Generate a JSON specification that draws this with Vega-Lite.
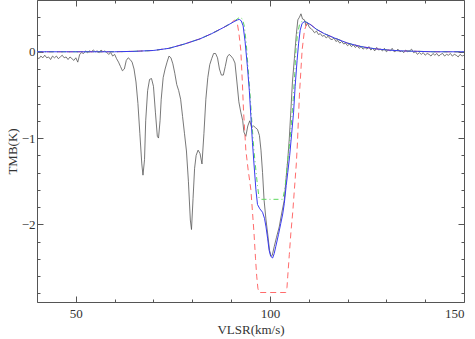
{
  "$schema": "https://vega.github.io/schema/vega-lite/v6.json",
  "width": 427,
  "height": 302,
  "autosize": {"type": "none"},
  "padding": {"left": 37, "top": 0, "right": 11, "bottom": 37},
  "background": "white",
  "config": {
    "view": {"stroke": "#555", "strokeWidth": 1},
    "font": "Liberation Serif",
    "axis": {"grid": false, "domain": false, "tickColor": "#555", "labelColor": "#333", "titleColor": "#333", "labelFont": "Liberation Serif", "titleFont": "Liberation Serif", "labelFontSize": 13, "titleFontSize": 13, "titleFontWeight": "normal"}
  },
  "datasets": {
    "obs": [
      {"v":40,"t":-0.06},{"v":40.5,"t":-0.08},{"v":41,"t":-0.05},{"v":41.5,"t":-0.07},{"v":42,"t":-0.04},{"v":42.5,"t":-0.07},{"v":43,"t":-0.06},{"v":43.5,"t":-0.09},{"v":44,"t":-0.05},{"v":44.5,"t":-0.07},{"v":45,"t":-0.05},{"v":45.5,"t":-0.08},{"v":46,"t":-0.06},{"v":46.5,"t":-0.04},{"v":47,"t":-0.07},{"v":47.5,"t":-0.06},{"v":48,"t":-0.09},{"v":48.5,"t":-0.06},{"v":49,"t":-0.08},{"v":49.5,"t":-0.1},{"v":50,"t":-0.07},{"v":50.5,"t":-0.12},{"v":51,"t":-0.03},{"v":51.5,"t":-0.01},{"v":52,"t":-0.02},{"v":52.5,"t":0.01},{"v":53,"t":-0.01},{"v":53.5,"t":0.01},{"v":54,"t":0.0},{"v":54.5,"t":0.02},{"v":55,"t":0.0},{"v":55.5,"t":0.01},{"v":56,"t":-0.01},{"v":56.5,"t":0.02},{"v":57,"t":0.0},{"v":57.5,"t":0.01},{"v":58,"t":-0.01},{"v":58.5,"t":-0.03},{"v":59,"t":-0.01},{"v":59.5,"t":-0.05},{"v":60,"t":-0.03},{"v":60.5,"t":-0.08},{"v":61,"t":-0.12},{"v":61.5,"t":-0.17},{"v":62,"t":-0.22},{"v":62.5,"t":-0.2},{"v":63,"t":-0.1},{"v":63.5,"t":-0.07},{"v":64,"t":-0.09},{"v":64.5,"t":-0.12},{"v":65,"t":-0.2},{"v":65.5,"t":-0.35},{"v":66,"t":-0.6},{"v":66.5,"t":-0.95},{"v":67,"t":-1.3},{"v":67.3,"t":-1.43},{"v":67.7,"t":-1.25},{"v":68,"t":-0.8},{"v":68.5,"t":-0.45},{"v":69,"t":-0.32},{"v":69.5,"t":-0.31},{"v":70,"t":-0.4},{"v":70.5,"t":-0.7},{"v":71,"t":-0.98},{"v":71.3,"t":-1.0},{"v":71.7,"t":-0.8},{"v":72,"t":-0.55},{"v":72.5,"t":-0.3},{"v":73,"t":-0.2},{"v":73.5,"t":-0.12},{"v":74,"t":-0.05},{"v":74.5,"t":-0.07},{"v":75,"t":-0.14},{"v":75.5,"t":-0.25},{"v":76,"t":-0.38},{"v":76.5,"t":-0.45},{"v":77,"t":-0.55},{"v":77.5,"t":-0.75},{"v":78,"t":-0.95},{"v":78.5,"t":-1.15},{"v":79,"t":-1.5},{"v":79.5,"t":-1.95},{"v":79.8,"t":-2.06},{"v":80.2,"t":-1.7},{"v":80.6,"t":-1.35},{"v":81,"t":-1.2},{"v":81.5,"t":-1.14},{"v":82,"t":-1.18},{"v":82.5,"t":-1.3},{"v":83,"t":-0.95},{"v":83.5,"t":-0.55},{"v":84,"t":-0.3},{"v":84.5,"t":-0.15},{"v":85,"t":-0.08},{"v":85.5,"t":-0.02},{"v":86,"t":-0.02},{"v":86.5,"t":-0.07},{"v":87,"t":-0.2},{"v":87.5,"t":-0.27},{"v":88,"t":-0.27},{"v":88.5,"t":-0.17},{"v":89,"t":-0.06},{"v":89.5,"t":-0.03},{"v":90,"t":-0.05},{"v":90.5,"t":-0.08},{"v":91,"t":-0.13},{"v":91.5,"t":-0.35},{"v":92,"t":-0.58},{"v":92.5,"t":-0.7},{"v":93,"t":-0.8},{"v":93.3,"t":-0.93},{"v":93.8,"t":-0.98},{"v":94.3,"t":-0.86},{"v":94.8,"t":-0.8},{"v":95.3,"t":-0.88},{"v":95.8,"t":-0.86},{"v":96.3,"t":-0.88},{"v":96.8,"t":-0.9},{"v":97.3,"t":-0.97},{"v":97.7,"t":-1.14},{"v":98.1,"t":-1.4},{"v":98.5,"t":-1.72},{"v":99,"t":-1.95},{"v":99.4,"t":-2.1},{"v":99.9,"t":-2.3},{"v":100.3,"t":-2.37},{"v":100.6,"t":-2.36},{"v":101.1,"t":-2.26},{"v":101.7,"t":-2.15},{"v":102.4,"t":-2.03},{"v":103,"t":-1.88},{"v":103.7,"t":-1.72},{"v":104.2,"t":-1.45},{"v":104.6,"t":-1.25},{"v":105,"t":-1.0},{"v":105.4,"t":-0.68},{"v":105.8,"t":-0.35},{"v":106.3,"t":-0.08},{"v":106.8,"t":0.2},{"v":107.2,"t":0.37},{"v":107.6,"t":0.4},{"v":108,"t":0.44},{"v":108.4,"t":0.38},{"v":108.9,"t":0.37},{"v":109.3,"t":0.3},{"v":109.7,"t":0.33},{"v":110.2,"t":0.28},{"v":110.6,"t":0.27},{"v":111,"t":0.25},{"v":111.5,"t":0.22},{"v":112,"t":0.24},{"v":112.5,"t":0.2},{"v":113,"t":0.21},{"v":113.5,"t":0.18},{"v":114,"t":0.19},{"v":114.5,"t":0.16},{"v":115,"t":0.18},{"v":115.5,"t":0.15},{"v":116,"t":0.14},{"v":116.5,"t":0.16},{"v":117,"t":0.12},{"v":117.5,"t":0.13},{"v":118,"t":0.1},{"v":118.5,"t":0.12},{"v":119,"t":0.09},{"v":119.5,"t":0.1},{"v":120,"t":0.07},{"v":120.5,"t":0.09},{"v":121,"t":0.06},{"v":121.5,"t":0.08},{"v":122,"t":0.05},{"v":122.5,"t":0.07},{"v":123,"t":0.04},{"v":123.5,"t":0.06},{"v":124,"t":0.03},{"v":124.5,"t":0.05},{"v":125,"t":0.03},{"v":125.5,"t":0.06},{"v":126,"t":0.02},{"v":126.5,"t":0.04},{"v":127,"t":0.01},{"v":127.5,"t":0.05},{"v":128,"t":0.02},{"v":128.5,"t":0.03},{"v":129,"t":0.01},{"v":129.5,"t":0.04},{"v":130,"t":0.0},{"v":130.5,"t":0.02},{"v":131,"t":0.01},{"v":131.5,"t":0.04},{"v":132,"t":0.0},{"v":132.5,"t":0.01},{"v":133,"t":0.03},{"v":133.5,"t":0.0},{"v":134,"t":0.01},{"v":134.5,"t":-0.01},{"v":135,"t":0.02},{"v":135.5,"t":0.0},{"v":136,"t":0.01},{"v":136.5,"t":0.03},{"v":137,"t":-0.01},{"v":137.5,"t":0.0},{"v":138,"t":-0.03},{"v":138.5,"t":-0.01},{"v":139,"t":-0.03},{"v":139.5,"t":-0.01},{"v":140,"t":-0.04},{"v":140.5,"t":-0.02},{"v":141,"t":-0.03},{"v":141.5,"t":-0.05},{"v":142,"t":-0.02},{"v":142.5,"t":-0.04},{"v":143,"t":-0.02},{"v":143.5,"t":-0.05},{"v":144,"t":-0.03},{"v":144.5,"t":-0.02},{"v":145,"t":-0.05},{"v":145.5,"t":-0.03},{"v":146,"t":-0.04},{"v":146.5,"t":-0.02},{"v":147,"t":-0.05},{"v":147.5,"t":-0.03},{"v":148,"t":-0.04},{"v":148.5,"t":-0.06},{"v":149,"t":-0.03},{"v":149.5,"t":-0.05},{"v":150,"t":-0.04}
    ],
    "blue": [
      {"v":40,"t":0},{"v":50,"t":0},{"v":60,"t":0.0},{"v":65,"t":0.005},{"v":70,"t":0.015},{"v":74,"t":0.04},{"v":78,"t":0.09},{"v":82,"t":0.15},{"v":85,"t":0.21},{"v":88,"t":0.28},{"v":90,"t":0.33},{"v":91,"t":0.355},{"v":91.7,"t":0.37},{"v":92.1,"t":0.375},{"v":92.6,"t":0.36},{"v":93.1,"t":0.3},{"v":93.6,"t":0.12},{"v":94.2,"t":-0.17},{"v":94.7,"t":-0.45},{"v":95.1,"t":-0.75},{"v":95.5,"t":-1.05},{"v":95.9,"t":-1.3},{"v":96.4,"t":-1.6},{"v":96.8,"t":-1.77},{"v":97.4,"t":-1.82},{"v":98.1,"t":-1.86},{"v":98.6,"t":-1.93},{"v":99,"t":-2.03},{"v":99.4,"t":-2.16},{"v":99.8,"t":-2.3},{"v":100.2,"t":-2.37},{"v":100.7,"t":-2.39},{"v":101.1,"t":-2.34},{"v":101.5,"t":-2.26},{"v":102.2,"t":-2.12},{"v":102.8,"t":-1.99},{"v":103.3,"t":-1.88},{"v":103.7,"t":-1.76},{"v":104.2,"t":-1.55},{"v":104.6,"t":-1.4},{"v":105.1,"t":-1.2},{"v":105.6,"t":-0.95},{"v":106.1,"t":-0.7},{"v":106.5,"t":-0.4},{"v":107,"t":-0.1},{"v":107.4,"t":0.1},{"v":107.8,"t":0.25},{"v":108.3,"t":0.33},{"v":108.9,"t":0.35},{"v":109.5,"t":0.34},{"v":110.6,"t":0.31},{"v":112,"t":0.26},{"v":114,"t":0.21},{"v":116.6,"t":0.16},{"v":120,"t":0.1},{"v":123.5,"t":0.06},{"v":127,"t":0.035},{"v":130.4,"t":0.02},{"v":134,"t":0.01},{"v":138,"t":0.005},{"v":142,"t":0.0},{"v":150,"t":0}
    ],
    "green": [
      {"v":40,"t":0},{"v":50,"t":0},{"v":60,"t":0.0},{"v":65,"t":0.005},{"v":70,"t":0.015},{"v":74,"t":0.04},{"v":78,"t":0.09},{"v":82,"t":0.15},{"v":85,"t":0.21},{"v":88,"t":0.28},{"v":90,"t":0.33},{"v":91,"t":0.36},{"v":91.7,"t":0.385},{"v":92.3,"t":0.4},{"v":92.9,"t":0.38},{"v":93.4,"t":0.3},{"v":93.9,"t":0.1},{"v":94.4,"t":-0.2},{"v":94.9,"t":-0.5},{"v":95.4,"t":-0.85},{"v":95.9,"t":-1.15},{"v":96.4,"t":-1.38},{"v":96.8,"t":-1.55},{"v":97.2,"t":-1.69},{"v":97.5,"t":-1.71},{"v":103.3,"t":-1.71},{"v":103.8,"t":-1.6},{"v":104.2,"t":-1.45},{"v":104.6,"t":-1.25},{"v":105,"t":-1.1},{"v":105.5,"t":-0.85},{"v":106,"t":-0.55},{"v":106.4,"t":-0.25},{"v":106.7,"t":0.02},{"v":107.1,"t":0.2},{"v":107.6,"t":0.31},{"v":108.2,"t":0.35},{"v":108.8,"t":0.36},{"v":109.5,"t":0.34},{"v":110.6,"t":0.31},{"v":112,"t":0.26},{"v":114,"t":0.21},{"v":116.6,"t":0.16},{"v":120,"t":0.1},{"v":123.5,"t":0.06},{"v":127,"t":0.035},{"v":130.4,"t":0.02},{"v":134,"t":0.01},{"v":138,"t":0.005},{"v":142,"t":0.0},{"v":150,"t":0}
    ],
    "red": [
      {"v":40,"t":0},{"v":50,"t":0},{"v":60,"t":0.0},{"v":65,"t":0.005},{"v":70,"t":0.015},{"v":74,"t":0.04},{"v":78,"t":0.09},{"v":82,"t":0.15},{"v":85,"t":0.21},{"v":88,"t":0.28},{"v":90,"t":0.33},{"v":90.8,"t":0.365},{"v":91.3,"t":0.36},{"v":91.6,"t":0.33},{"v":92,"t":0.22},{"v":92.5,"t":0.02},{"v":92.9,"t":-0.35},{"v":93.2,"t":-0.68},{"v":93.8,"t":-1.14},{"v":94.4,"t":-1.37},{"v":95.1,"t":-1.6},{"v":95.5,"t":-1.85},{"v":95.9,"t":-2.1},{"v":96.3,"t":-2.4},{"v":96.6,"t":-2.6},{"v":96.9,"t":-2.74},{"v":97.2,"t":-2.79},{"v":104.1,"t":-2.79},{"v":104.4,"t":-2.73},{"v":104.6,"t":-2.6},{"v":105,"t":-2.35},{"v":105.4,"t":-2.1},{"v":105.9,"t":-1.85},{"v":106.3,"t":-1.6},{"v":106.8,"t":-1.3},{"v":107.1,"t":-1.05},{"v":107.6,"t":-0.5},{"v":108.3,"t":0.02},{"v":108.9,"t":0.25},{"v":109.6,"t":0.34},{"v":110.2,"t":0.33},{"v":110.6,"t":0.31},{"v":112,"t":0.26},{"v":114,"t":0.21},{"v":116.6,"t":0.16},{"v":120,"t":0.1},{"v":123.5,"t":0.06},{"v":127,"t":0.035},{"v":130.4,"t":0.02},{"v":134,"t":0.01},{"v":138,"t":0.005},{"v":142,"t":0.0},{"v":150,"t":0}
    ]
  },
  "resolve": {"axis": {"x": "independent", "y": "independent"}},
  "layer": [
    {
      "data": {"name": "obs"},
      "mark": {"type": "line", "color": "#555", "strokeWidth": 0.8, "clip": true},
      "encoding": {
        "x": {"field": "v", "type": "quantitative", "scale": {"domain": [40, 150], "nice": false, "zero": false},
          "axis": {"orient": "bottom", "values": [50, 100, 150], "tickSize": -6, "labelPadding": 11, "title": "VLSR(km/s)", "titlePadding": 3}},
        "y": {"field": "t", "type": "quantitative", "scale": {"domain": [-2.9, 0.6], "nice": false, "zero": false},
          "axis": {"orient": "left", "values": [-2, -1, 0], "tickSize": -6, "labelPadding": 8, "title": "TMB(K)", "titlePadding": 2}}
      }
    },
    {
      "data": {"name": "red"},
      "mark": {"type": "line", "color": "#ff6b6b", "strokeWidth": 1, "strokeDash": [6, 4], "clip": true},
      "encoding": {
        "x": {"field": "v", "type": "quantitative", "scale": {"domain": [40, 150], "nice": false, "zero": false},
          "axis": {"orient": "bottom", "values": [40, 60, 70, 80, 90, 110, 120, 130, 140], "tickSize": -3, "labels": false, "title": null}},
        "y": {"field": "t", "type": "quantitative", "scale": {"domain": [-2.9, 0.6], "nice": false, "zero": false},
          "axis": {"orient": "left", "values": [-2.8, -2.6, -2.4, -2.2, -1.8, -1.6, -1.4, -1.2, -0.8, -0.6, -0.4, -0.2, 0.2, 0.4], "tickSize": -3, "labels": false, "title": null}}
      }
    },
    {
      "data": {"name": "green"},
      "mark": {"type": "line", "color": "#5ed85e", "strokeWidth": 1, "strokeDash": [5, 3, 1, 3], "clip": true},
      "encoding": {
        "x": {"field": "v", "type": "quantitative", "scale": {"domain": [40, 150], "nice": false, "zero": false},
          "axis": {"orient": "top", "values": [50, 100, 150], "tickSize": -6, "labels": false, "title": null}},
        "y": {"field": "t", "type": "quantitative", "scale": {"domain": [-2.9, 0.6], "nice": false, "zero": false},
          "axis": {"orient": "right", "values": [-2, -1, 0], "tickSize": -6, "labels": false, "title": null}}
      }
    },
    {
      "data": {"name": "blue"},
      "mark": {"type": "line", "color": "#3a3af0", "strokeWidth": 1, "clip": true},
      "encoding": {
        "x": {"field": "v", "type": "quantitative", "scale": {"domain": [40, 150], "nice": false, "zero": false},
          "axis": {"orient": "top", "values": [40, 60, 70, 80, 90, 110, 120, 130, 140], "tickSize": -3, "labels": false, "title": null}},
        "y": {"field": "t", "type": "quantitative", "scale": {"domain": [-2.9, 0.6], "nice": false, "zero": false},
          "axis": {"orient": "right", "values": [-2.8, -2.6, -2.4, -2.2, -1.8, -1.6, -1.4, -1.2, -0.8, -0.6, -0.4, -0.2, 0.2, 0.4], "tickSize": -3, "labels": false, "title": null}}
      }
    }
  ]
}
